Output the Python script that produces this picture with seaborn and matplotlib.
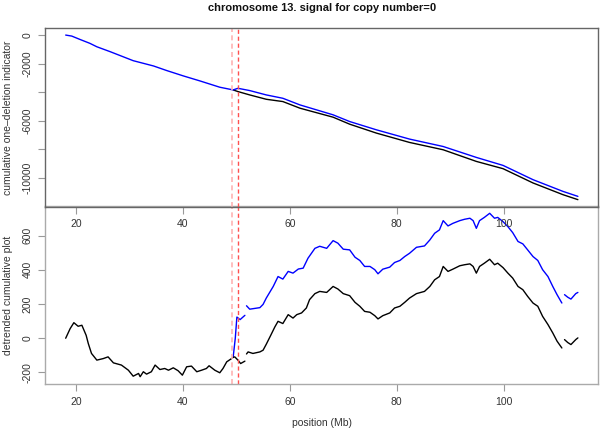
import numpy as np
import pandas as pd
import matplotlib
matplotlib.use("Agg")
import matplotlib.pyplot as plt
import seaborn as sns

# ---------------- data ----------------
# top panel: cumulative one-deletion indicator
top_blue_x = [18.07, 19.2, 20.7, 22.6, 23.9, 26.4, 30.7, 34.5, 37.0, 40.1, 43.2, 46.9, 49.4,
              50.3, 52.5, 55.6, 58.7, 61.9, 68.1, 71.2, 76.2, 82.4, 88.7, 94.9, 99.9, 105.5, 111.1, 113.9]
top_blue_y = [0, -70, -300, -580, -820, -1165, -1795, -2165, -2490, -2865, -3215, -3655, -3845,
              -3730, -3890, -4195, -4430, -4895, -5590, -6060, -6640, -7290, -7810, -8575, -9135, -10135, -10955, -11305]
top_black_x = [49.4, 50.3, 52.5, 55.6, 58.7, 61.9, 68.1, 71.2, 76.2, 82.4, 88.7, 94.9, 99.9, 105.5, 111.1, 113.9]
top_black_y = [-3845, -3960, -4195, -4500, -4660, -5125, -5755, -6245, -6870, -7525, -8040, -8855, -9365, -10365, -11185, -11535]

# bottom panel: detrended cumulative plot (three segments each)
blk1_x = [18.07, 18.9, 19.6, 20.4, 21.1, 21.9, 22.3, 22.9, 23.9, 25.1, 26.0, 27.0, 28.5, 29.8, 30.7, 31.7,
          32.0, 32.6, 33.2, 34.1, 34.8, 35.7, 36.6, 37.3, 38.2, 39.1, 39.9, 40.7, 41.6, 42.6, 43.5, 44.4,
          44.9, 45.97, 46.9, 47.5, 48.2, 49.1, 49.4, 49.7, 50.3, 50.8, 51.6]
blk1_y = [0, 56, 91, 70, 76, 17, -31, -89, -128, -119, -109, -144, -157, -187, -222, -206,
          -225, -196, -210, -196, -157, -183, -177, -187, -173, -190, -216, -167, -163, -196, -187, -177,
          -161, -187, -202, -177, -138, -119, -112, -109, -128, -148, -134]
blk2_x = [51.9, 52.2, 53.1, 54.4, 55.0, 55.6, 56.4, 57.2, 57.8, 58.7, 59.7, 60.6, 61.3, 62.2, 63.1, 63.7,
          64.7, 65.6, 66.9, 68.1, 69.0, 70.0, 71.2, 72.2, 73.1, 74.0, 75.0, 75.9, 76.5, 77.4, 78.7, 79.6,
          80.6, 81.5, 82.4, 83.7, 85.2, 86.2, 87.1, 88.0, 88.7, 89.6, 90.5, 91.8, 92.7, 93.7, 94.3, 94.9,
          95.5, 96.4, 97.4, 98.3, 98.9, 99.9, 100.8, 101.7, 102.7, 103.6, 104.5, 105.5, 106.4, 107.3,
          108.3, 109.2, 110.0, 110.9]
blk2_y = [-92, -80, -89, -80, -70, -35, 15, 66, 99, 86, 138, 118, 138, 148, 177, 226,
          261, 274, 268, 303, 288, 261, 249, 210, 187, 157, 152, 132, 113, 132, 148, 177,
          187, 210, 235, 261, 274, 303, 342, 361, 420, 391, 404, 424, 430, 435, 420, 381,
          420, 439, 462, 430, 439, 413, 381, 352, 303, 284, 245, 206, 187, 128,
          80, 31, -17, -57]
blk3_x = [111.4, 112.0, 112.6, 113.5, 113.9]
blk3_y = [-8, -25, -37, -8, 2]

blu1_x = [49.4, 49.8, 50.1, 50.7, 51.6]
blu1_y = [-112, 0, 124, 109, 134]
blu2_x = [51.9, 52.5, 54.4, 55.0, 55.6, 56.9, 57.8, 58.7, 59.7, 60.6, 61.6, 62.5, 63.4, 64.7, 65.6, 66.9,
          68.1, 69.0, 70.0, 71.2, 72.2, 73.1, 74.0, 75.0, 75.9, 76.5, 77.4, 78.7, 79.6, 80.6, 81.5, 82.4,
          83.7, 85.2, 86.2, 87.1, 88.0, 88.7, 89.6, 90.5, 91.8, 92.7, 93.7, 94.3, 94.9, 95.5, 96.4, 97.4,
          98.3, 98.9, 99.9, 100.8, 101.7, 102.7, 103.6, 104.5, 105.5, 106.4, 107.3, 108.3, 109.2, 110.0, 110.9]
blu2_y = [190, 170, 179, 198, 235, 303, 361, 346, 391, 381, 405, 410, 468, 526, 538, 526,
          571, 556, 521, 517, 474, 455, 420, 420, 401, 377, 404, 416, 443, 455, 478, 497,
          532, 540, 575, 614, 634, 688, 657, 672, 688, 696, 702, 688, 643, 688, 707, 731,
          702, 707, 682, 653, 618, 566, 552, 517, 478, 455, 401, 361, 303, 255, 206]
blu3_x = [111.4, 112.0, 112.6, 113.5, 113.9]
blu3_y = [255, 240, 229, 261, 268]

boundaries = [49.25, 50.35]
xticks = [20, 40, 60, 80, 100]
top_yticks = [0, -2000, -4000, -6000, -8000, -10000]
top_yticklabels = ["0", "-2000", "", "-6000", "", "-10000"]
bot_yticks = [-200, 0, 200, 400, 600]

# ---------------- frames ----------------
def segs(pairs):
    rows = []
    for i, (xs, ys) in enumerate(pairs):
        rows.append(pd.DataFrame({"x": xs, "y": ys, "seg": i}))
    return pd.concat(rows, ignore_index=True)

top_blue = segs([(top_blue_x, top_blue_y)])
top_black = segs([(top_black_x, top_black_y)])
bot_black = segs([(blk1_x, blk1_y), (blk2_x, blk2_y), (blk3_x, blk3_y)])
bot_blue = segs([(blu1_x, blu1_y), (blu2_x, blu2_y), (blu3_x, blu3_y)])

# ---------------- plot ----------------
sns.set_style("white")
plt.rcParams["font.family"] = ["Liberation Sans", "DejaVu Sans"]
txt = "#333333"
fs = 7.5

fig = plt.figure(figsize=(6.0, 4.32), dpi=100)
ax_top = fig.add_axes([0.075, 0.5215, 0.922, 0.4135])
ax_bot = fig.add_axes([0.075, 0.111, 0.922, 0.4115])
ax_top.set_zorder(2)
ax_top.patch.set_alpha(0)

lw = 1.0
sns.lineplot(data=top_black, x="x", y="y", units="seg", estimator=None, color="black",
             lw=lw, ax=ax_top, sort=False)
sns.lineplot(data=top_blue, x="x", y="y", units="seg", estimator=None, color="#0000ff",
             lw=lw, ax=ax_top, sort=False)
sns.lineplot(data=bot_blue, x="x", y="y", units="seg", estimator=None, color="#0000ff",
             lw=lw, ax=ax_bot, sort=False)
sns.lineplot(data=bot_black, x="x", y="y", units="seg", estimator=None, color="black",
             lw=lw, ax=ax_bot, sort=False)

for ax in (ax_top, ax_bot):
    ax.axvline(boundaries[0], color="#ffb3b3", ls=(0, (3, 2)), lw=1.2)
    ax.axvline(boundaries[1], color="#ff5050", ls=(0, (3, 2)), lw=1.0)
    ax.set_xlim(14.2, 117.7)
    ax.set_xticks(xticks)
    ax.set_xticklabels([str(t) for t in xticks])
    ax.tick_params(axis="both", direction="out", length=5, width=0.8, color="#999999",
                   labelsize=fs, labelcolor=txt, pad=4,
                   bottom=True, left=True)

ax_top.set_ylim(-12030, 490)
ax_top.set_yticks(top_yticks)
ax_top.set_yticklabels(top_yticklabels, rotation=90, va="center")
ax_bot.set_ylim(-268, 772)
ax_bot.set_yticks(bot_yticks)
ax_bot.set_yticklabels([str(t) for t in bot_yticks], rotation=90, va="center")

for s in ax_top.spines.values():
    s.set_color("#666666"); s.set_linewidth(1.0)
for s in ax_bot.spines.values():
    s.set_color("#aaaaaa"); s.set_linewidth(1.0)

ax_top.set_xlabel("")
ax_top.set_ylabel("cumulative one\u2013deletion indicator", fontsize=fs, color=txt)
ax_top.yaxis.set_label_coords(-0.058, 0.5)
ax_bot.set_ylabel("detrended cumulative plot", fontsize=fs, color=txt)
ax_bot.yaxis.set_label_coords(-0.058, 0.5)
ax_bot.set_xlabel("position (Mb)", fontsize=fs, color=txt)
ax_bot.xaxis.set_label_coords(0.5, -0.19)

fig.text(0.536, 1 - 8 / 432, "chromosome 13. signal for copy number=0", ha="center", va="center",
         fontsize=8, fontweight="bold", color="#111111")

fig.savefig("out.png", dpi=100)
